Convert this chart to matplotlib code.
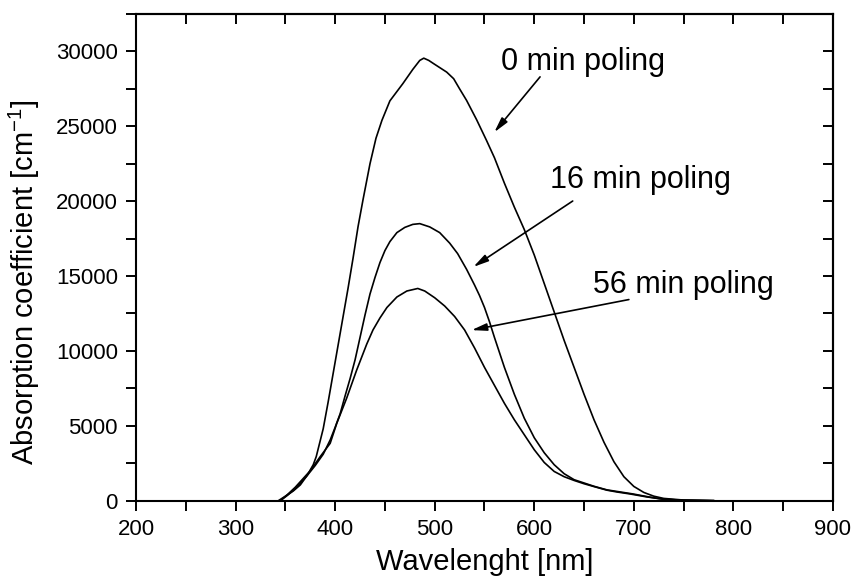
import matplotlib
matplotlib.use("Agg")
import matplotlib.pyplot as plt
from matplotlib.ticker import MultipleLocator

plt.rcParams['font.family'] = ['Liberation Sans', 'DejaVu Sans']

# absorption spectra (wavelength nm, coefficient cm^-1)
wl_0 = [343, 350, 358, 365, 372, 378, 381, 388, 393, 398, 403, 408, 413, 418,
        423, 428, 435, 441, 447, 455, 468, 478, 485, 489, 494, 499, 512, 519,
        525, 532, 542, 552, 560, 570, 580, 590, 600, 610, 620, 630, 640, 650,
        660, 670, 680, 690, 700, 710, 720, 730, 750, 780]
abs_0 = [0, 300, 650, 1050, 1700, 2400, 2940, 4800, 6600, 8500, 10400, 12300,
         14200, 16200, 18300, 20100, 22500, 24200, 25400, 26700, 27850, 28800,
         29400, 29550, 29400, 29180, 28620, 28180, 27500, 26730, 25450, 24060,
         22900, 21200, 19600, 18100, 16400, 14500, 12600, 10700, 8900, 7100,
         5400, 3900, 2600, 1600, 950, 550, 300, 150, 40, 0]

wl_16 = [345, 352, 360, 371, 380, 388, 395, 400, 405, 410, 415, 420, 425, 430,
         435, 440, 445, 450, 455, 462, 470, 478, 485, 495, 505, 515, 523, 532,
         540, 545, 550, 555, 560, 565, 570, 575, 580, 590, 600, 610, 620, 630,
         640, 650, 660, 673, 699, 715, 730, 750, 780]
abs_16 = [0, 350, 800, 1600, 2350, 3100, 4050, 4900, 5800, 7000, 8150, 9400,
          10900, 12400, 13800, 14900, 15900, 16700, 17300, 17900, 18250, 18450,
          18500, 18280, 17900, 17200, 16500, 15450, 14400, 13700, 12900, 11950,
          10900, 9900, 8900, 8000, 7100, 5500, 4200, 3200, 2400, 1800, 1400,
          1180, 960, 720, 450, 250, 90, 30, 0]

wl_56 = [345, 352, 360, 375, 385, 395, 401.6, 411.6, 421.5, 431.7, 438, 445, 452,
         462, 472, 483, 490, 500, 510, 520, 530, 540, 550, 560, 570, 580, 590,
         600, 610, 620, 630, 640, 650, 660, 673, 683, 696, 713, 730, 750, 780]
abs_56 = [0, 400, 900, 2000, 2940, 3830, 5160, 6850, 8700, 10450, 11400, 12200,
          12900, 13600, 14000, 14170, 14000, 13550, 13000, 12300, 11400, 10200,
          8900, 7700, 6500, 5400, 4400, 3400, 2550, 1950, 1600, 1350, 1130, 940,
          700, 580, 450, 250, 90, 30, 0]

labels = ['0 min poling', '16 min poling', '56 min poling']

fig = plt.figure(figsize=(8.56, 5.78), dpi=100)
ax = fig.add_axes([0.1589, 0.1338, 0.8142, 0.842])

for wl, a in [(wl_0, abs_0), (wl_16, abs_16), (wl_56, abs_56)]:
    ax.plot(wl, a, color='black', lw=1.2)

ax.set_xlim(200, 900)
ax.set_ylim(0, 32500)
ax.xaxis.set_major_locator(MultipleLocator(100))
ax.xaxis.set_minor_locator(MultipleLocator(50))
ax.yaxis.set_major_locator(MultipleLocator(5000))
ax.yaxis.set_minor_locator(MultipleLocator(2500))
ax.tick_params(which='both', direction='out', length=7, width=1.4,
               labelsize=16, pad=6)
for s in ax.spines.values():
    s.set_linewidth(1.5)

# mirrored ticks on top and right pointing inwards
top = ax.secondary_xaxis('top')
top.xaxis.set_major_locator(MultipleLocator(100))
top.xaxis.set_minor_locator(MultipleLocator(50))
top.tick_params(which='both', direction='in', length=7, width=1.4, labeltop=False)
right = ax.secondary_yaxis('right')
right.yaxis.set_major_locator(MultipleLocator(5000))
right.yaxis.set_minor_locator(MultipleLocator(2500))
right.tick_params(which='both', direction='in', length=7, width=1.4, labelright=False)
for sa in (top, right):
    for s in sa.spines.values():
        s.set_linewidth(1.5)

ax.set_xlabel('Wavelenght [nm]', fontsize=21, labelpad=6)
ax.set_ylabel('Absorption coefficient [cm$^{\\mathregular{-1}}$]', fontsize=21)
ax.yaxis.set_label_coords(-0.135, 0.45)

# annotation labels and arrows
arrow = dict(arrowstyle='-|>,head_length=0.9,head_width=0.22', color='black',
             lw=1.2, shrinkA=0, shrinkB=0)
ax.text(567, 28730, labels[0], fontsize=22, ha='left', va='baseline')
ax.annotate('', xy=(559.8, 24600), xytext=(605.8, 28300), arrowprops=arrow)
ax.text(616, 20860, labels[1], fontsize=22, ha='left', va='baseline')
ax.annotate('', xy=(538.8, 15610), xytext=(638.6, 20010), arrowprops=arrow)
ax.text(659, 13850, labels[2], fontsize=22, ha='left', va='baseline')
ax.annotate('', xy=(537, 11390), xytext=(695, 13430), arrowprops=arrow)

fig.savefig('out.png', dpi=100)
